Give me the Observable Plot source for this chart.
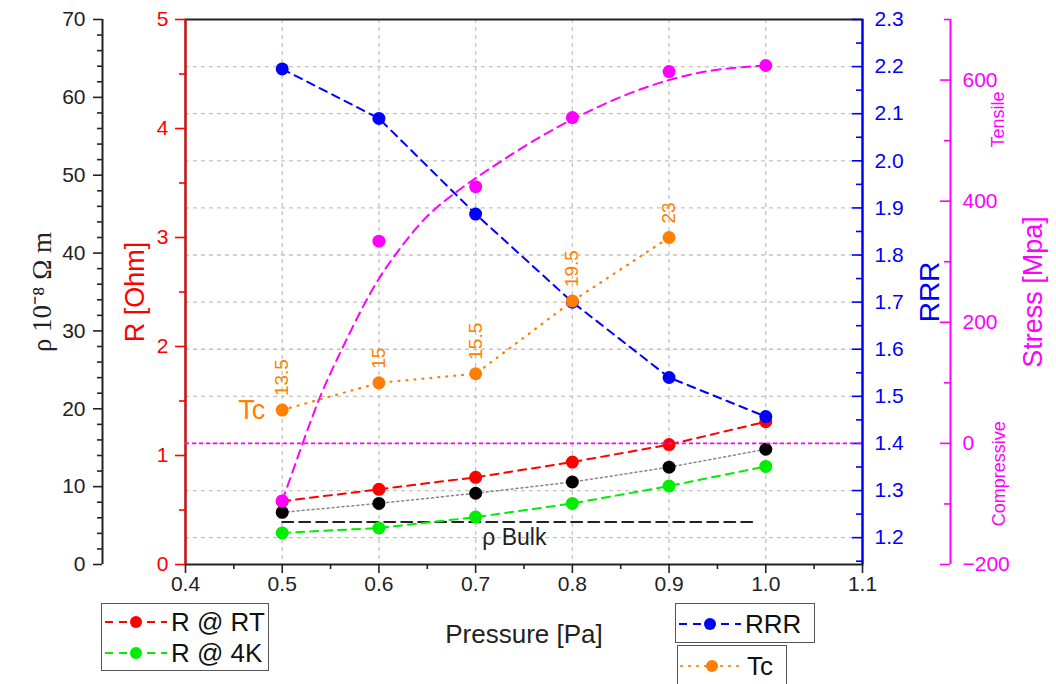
<!DOCTYPE html>
<html><head><meta charset="utf-8">
<script src="https://cdn.jsdelivr.net/npm/d3@7"></script>
<script src="https://cdn.jsdelivr.net/npm/@observablehq/plot@0.6"></script>
<style>
body{margin:0;background:#fff;font-family:"Liberation Sans",Arial,sans-serif;}
#chart{position:relative;width:1056px;height:684px;overflow:hidden;}
#chart svg{position:absolute;left:0;top:0;}
.legend{position:absolute;border:1.5px solid #555;background:#fff;box-sizing:border-box;font-size:26px;color:#111;line-height:1;}
.row{display:flex;align-items:center;}
.row svg{position:static !important;flex:none;}
.row span{margin-left:2px;}
</style></head><body><div id="chart"></div><script>
// ---- data ----
const pressure = [0.5, 0.6, 0.7, 0.8, 0.9, 1.0];
const rAtRT = [0.58, 0.69, 0.80, 0.94, 1.10, 1.31];
const rAt4K = [0.29, 0.335, 0.435, 0.56, 0.72, 0.90];
const rho = [6.7, 7.85, 9.15, 10.6, 12.5, 14.8];
const rrr = [2.195, 2.09, 1.887, 1.70, 1.54, 1.457];
const stress = [-95, 334, 424, 538, 614, 624];
const tcPressure = [0.5, 0.6, 0.7, 0.8, 0.9];
const tc = [13.5, 15, 15.5, 19.5, 23];
const stressFitPressure = [0.5, 0.52, 0.54, 0.56, 0.58, 0.60, 0.62, 0.64, 0.66, 0.68, 0.70, 0.75, 0.80, 0.85, 0.90, 0.95, 1.0];
const stressFit = [-95, -5, 80, 150, 215, 272, 318, 358, 390, 415, 438, 490, 535, 572, 600, 617, 624];
const rhoBulk = 5.45;
const rhoBulkRange = [0.5, 0.99];
const xTicks = [0.4, 0.5, 0.6, 0.7, 0.8, 0.9, 1.0, 1.1];
const xMinor = [0.45, 0.55, 0.65, 0.75, 0.85, 0.95, 1.05];
const rhoTicks = [0, 10, 20, 30, 40, 50, 60, 70];
const rhoMinor = d3.range(2, 70, 2).filter(v => v % 10 !== 0);
const rTicks = [0, 1, 2, 3, 4, 5];
const rMinor = [0.5, 1.5, 2.5, 3.5, 4.5];
const rrrTicks = [1.2, 1.3, 1.4, 1.5, 1.6, 1.7, 1.8, 1.9, 2.0, 2.1, 2.2, 2.3];
const rrrMinor = [1.15, 1.25, 1.35, 1.45, 1.55, 1.65, 1.75, 1.85, 1.95, 2.05, 2.15, 2.25];
const stressTicks = [-200, 0, 200, 400, 600];
const stressMinor = [-100, 100, 300, 500, 700];
const gridX = [0.5, 0.6, 0.7, 0.8, 0.9, 1.0];
const gridY = [1.2, 1.3, 1.4, 1.5, 1.6, 1.7, 1.8, 1.9, 2.0, 2.1, 2.2];

// ---- tables ----
const main = pressure.map((p, i) => ({p, rRT: rAtRT[i], r4K: rAt4K[i], rho: rho[i], rrr: rrr[i], stress: stress[i]}));
const tcData = tcPressure.map((p, i) => ({p, tc: tc[i]}));
const fitData = stressFitPressure.map((p, i) => ({p, s: stressFit[i]}));
const bulkData = rhoBulkRange.map(p => ({p, v: rhoBulk}));

// ---- colours ----
const RED = "#ff0000", GREEN = "#00ee00", BLUE = "#0000ff", MAG = "#ff00ff", ORANGE = "#ff7f00", INK = "#222";

const W = 1056, H = 684, ML = 185, MR = 194, MT = 19, MB = 120;
const FW = W - ML - MR;
const FONT = "Liberation Sans, Arial, sans-serif";

function layer(yDomain, marks) {
  return Plot.plot({
    width: W, height: H, marginLeft: ML, marginRight: MR, marginTop: MT, marginBottom: MB,
    x: {domain: [0.4, 1.1], axis: null},
    y: {domain: yDomain, axis: null},
    style: {background: "transparent", fontFamily: FONT, overflow: "visible"},
    marks
  });
}
function ticksLeft(ticks, dx, size, color) {
  return Plot.axisY({anchor: "left", ticks, tickSize: size, dx, fill: "none", stroke: color, strokeWidth: 1.6, label: null});
}
function labelsLeft(ticks, dx, pad, color, fmt) {
  return Plot.axisY({anchor: "left", ticks, tickSize: 0, tickPadding: pad, dx, fill: color, stroke: "none", fontSize: 21, tickFormat: fmt, label: null});
}
function labelsRight(ticks, dx, pad, color, fmt) {
  return Plot.axisY({anchor: "right", ticks, tickSize: 0, tickPadding: pad, dx, fill: color, stroke: "none", fontSize: 21, tickFormat: fmt, label: null});
}
function sideLabel(txt, anchor, dx, size, color, extra = {}) {
  return Plot.text([txt], {frameAnchor: anchor, text: d => d, dx, rotate: -90, textAnchor: "middle", lineAnchor: "middle", fontSize: size, fill: color, ...extra});
}

const chart = document.getElementById("chart");
const RRR_DOMAIN = [1.143, 2.3];

// base: grid, frame, x axis
chart.append(layer(RRR_DOMAIN, [
  Plot.ruleX(gridX, {stroke: "#c4c4c4", strokeDasharray: "4,4", strokeWidth: 1.3}),
  Plot.ruleY(gridY, {stroke: "#c4c4c4", strokeDasharray: "4,4", strokeWidth: 1.3}),
  Plot.frame({stroke: INK, strokeWidth: 2}),
  Plot.axisX({ticks: xTicks, tickSize: 9, tickPadding: 3, tickFormat: d3.format(".1f"), fontSize: 21, fill: INK, stroke: INK, strokeWidth: 1.6, label: null}),
  Plot.axisX({ticks: xMinor, tickSize: 5, fill: "none", stroke: INK, strokeWidth: 1.6, label: null}),
  Plot.text(["Pressure [Pa]"], {frameAnchor: "bottom", text: d => d, dy: 70, textAnchor: "middle", lineAnchor: "middle", fontSize: 26, fill: INK})
]));

// rho layer
chart.append(layer([0, 70], [
  Plot.ruleX([0.4], {dx: -83, stroke: INK, strokeWidth: 2}),
  ticksLeft(rhoTicks, -83, 9, INK),
  ticksLeft(rhoMinor, -83, 5, INK),
  labelsLeft(rhoTicks, -83, 17, INK, d3.format("d")),
  sideLabel("ρ 10⁻⁸ Ω m", "left", -143, 27, INK, {fontFamily: "Liberation Serif, serif"}),
  Plot.line(bulkData, {x: "p", y: "v", stroke: INK, strokeWidth: 2, strokeDasharray: "11,6"}),
  Plot.text(["ρ Bulk"], {x: 0.74, y: rhoBulk, text: d => d, dy: 16, fontSize: 23, fill: INK}),
  Plot.line(main, {x: "p", y: "rho", stroke: "#888", strokeWidth: 1.5, strokeDasharray: "2,3"}),
  Plot.dot(main, {x: "p", y: "rho", r: 6.5, fill: "#000"})
]));

// R layer
chart.append(layer([0, 5], [
  Plot.ruleX([0.4], {stroke: RED, strokeWidth: 2}),
  ticksLeft(rTicks, 0, 10, RED),
  ticksLeft(rMinor, 0, 6, RED),
  labelsLeft(rTicks, 0, 17, RED, d3.format("d")),
  sideLabel("R [Ohm]", "left", -50, 27, RED),
  Plot.line(main, {x: "p", y: "rRT", stroke: RED, strokeWidth: 2, strokeDasharray: "8,6"}),
  Plot.dot(main, {x: "p", y: "rRT", r: 6.5, fill: RED}),
  Plot.line(main, {x: "p", y: "r4K", stroke: GREEN, strokeWidth: 2, strokeDasharray: "8,6"}),
  Plot.dot(main, {x: "p", y: "r4K", r: 6.5, fill: GREEN})
]));

// RRR layer
chart.append(layer(RRR_DOMAIN, [
  Plot.ruleX([1.1], {stroke: BLUE, strokeWidth: 2}),
  ticksLeft(rrrTicks, FW, 10, BLUE),
  ticksLeft(rrrMinor.filter(v => v > 1.143), FW, 6, BLUE),
  labelsRight(rrrTicks, 0, 12, BLUE, d3.format(".1f")),
  sideLabel("RRR", "right", 68, 28, BLUE),
  Plot.line(main, {x: "p", y: "rrr", stroke: BLUE, strokeWidth: 2, strokeDasharray: "8,6"}),
  Plot.dot(main, {x: "p", y: "rrr", r: 6.5, fill: BLUE})
]));

// stress layer
chart.append(layer([-200, 700], [
  Plot.ruleX([1.1], {dx: 88, stroke: MAG, strokeWidth: 2}),
  ticksLeft(stressTicks, FW + 88, 10, MAG),
  ticksLeft(stressMinor, FW + 88, 6, MAG),
  labelsRight(stressTicks, 88, 12, MAG, d3.format("d")),
  sideLabel("Stress [Mpa]", "right", 171, 27, MAG),
  Plot.text(["Tensile"], {frameAnchor: "right", y: 535, text: d => d, dx: 136, rotate: -90, textAnchor: "middle", lineAnchor: "middle", fontSize: 18, fill: MAG}),
  Plot.text(["Compressive"], {frameAnchor: "right", y: -50, text: d => d, dx: 137, rotate: -90, textAnchor: "middle", lineAnchor: "middle", fontSize: 18, fill: MAG}),
  Plot.ruleY([0], {stroke: MAG, strokeWidth: 1.6, strokeDasharray: "4,3"}),
  Plot.line(fitData, {x: "p", y: "s", curve: "natural", stroke: MAG, strokeWidth: 2, strokeDasharray: "9,6"}),
  Plot.dot(main, {x: "p", y: "stress", r: 6.5, fill: MAG})
]));

// Tc layer (hidden scale)
chart.append(layer([5, 35], [
  Plot.line(tcData, {x: "p", y: "tc", stroke: ORANGE, strokeWidth: 2.2, strokeDasharray: "1,7", strokeLinecap: "round"}),
  Plot.dot(tcData, {x: "p", y: "tc", r: 6.5, fill: ORANGE}),
  Plot.text(tcData, {x: "p", y: "tc", text: d => String(d.tc), rotate: -90, textAnchor: "start", dy: -14, fontSize: 19, fill: ORANGE}),
  Plot.text(tcData.slice(0, 1), {x: "p", y: "tc", text: () => "Tc", textAnchor: "end", dx: -17, fontSize: 27, fill: ORANGE})
]));

// ---- legends ----
function swatch(color, dash, cap) {
  return `<svg width="66" height="22"><line x1="2" y1="11" x2="64" y2="11" stroke="${color}" stroke-width="2" stroke-dasharray="${dash}" stroke-linecap="${cap}"/><circle cx="33" cy="11" r="6" fill="${color}"/></svg>`;
}
function legend(items, left, top, width, height) {
  const div = document.createElement("div");
  div.className = "legend";
  Object.assign(div.style, {left: left + "px", top: top + "px", width: width + "px", height: height + "px", padding: "2px 0 0 1px"});
  div.innerHTML = items.map(it => `<div class="row" style="height:${it.h}px">${swatch(it.color, it.dash, it.cap)}<span>${it.name}</span></div>`).join("");
  chart.append(div);
}
legend([{name: "R @ RT", color: RED, dash: "8,6", cap: "butt", h: 31}, {name: "R @ 4K", color: GREEN, dash: "8,6", cap: "butt", h: 31}], 101, 603, 168, 68);
legend([{name: "RRR", color: BLUE, dash: "8,6", cap: "butt", h: 35}], 675, 603, 140, 40);
legend([{name: "Tc", color: ORANGE, dash: "1,7", cap: "round", h: 35}], 677, 645, 110, 40);
</script></body></html>
